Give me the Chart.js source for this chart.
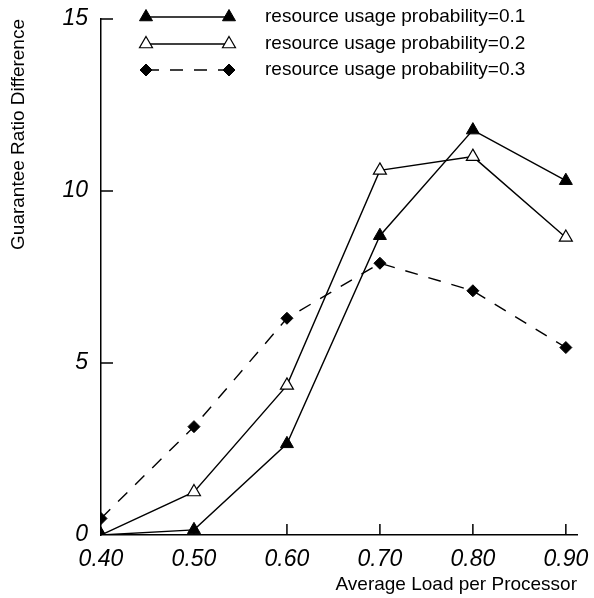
<!DOCTYPE html>
<html>
<head>
<meta charset="utf-8">
<script src="https://cdn.jsdelivr.net/npm/chart.js@4.4.0/dist/chart.umd.min.js"></script>
<style>
  html, body { margin: 0; padding: 0; background: #fff; }
</style>
</head>
<body>
<canvas id="chart" width="594" height="598"></canvas>
<script>
// data
var loads = [0.40, 0.50, 0.60, 0.70, 0.80, 0.90];
var prob01 = [0, 0.15, 2.65, 8.7, 11.77, 10.3];
var prob02 = [0, 1.25, 4.35, 10.6, 11.0, 8.65];
var prob03 = [0.48, 3.15, 6.3, 7.9, 7.1, 5.45];
var seriesNames = ['resource usage probability=0.1', 'resource usage probability=0.2', 'resource usage probability=0.3'];
var xTicks = [0.40, 0.50, 0.60, 0.70, 0.80, 0.90];
var yTicks = [0, 5, 10, 15];

var FONT = "'Liberation Sans', Arial, Helvetica, sans-serif";

function toPoints(vals) {
  return vals.map(function (v, i) { return { x: loads[i], y: v }; });
}

// no extra room for the end labels, layout padding decides the plot box
function noEdgePadding(scale) {
  scale.paddingTop = 0;
  scale.paddingBottom = 0;
  scale.paddingLeft = 0;
  scale.paddingRight = 0;
}

// small ticks pointing into the plot
var innerTicks = {
  id: 'innerTicks',
  afterDraw: function (chart) {
    var ctx = chart.ctx, a = chart.chartArea;
    var xs = chart.scales.x, ys = chart.scales.y;
    ctx.save();
    ctx.strokeStyle = '#000';
    ctx.lineWidth = 1.5;
    ctx.beginPath();
    yTicks.forEach(function (v) {
      if (v === 0) return;
      var py = ys.getPixelForValue(v);
      ctx.moveTo(a.left, py);
      ctx.lineTo(a.left + 12, py);
    });
    xTicks.forEach(function (v, i) {
      if (i === 0) return;
      var px = xs.getPixelForValue(v);
      ctx.moveTo(px, a.bottom);
      ctx.lineTo(px, a.bottom - 11);
    });
    ctx.stroke();
    ctx.restore();
  }
};

// legend drawn as line with a marker at each end
var markerLegend = {
  id: 'markerLegend',
  afterDraw: function (chart) {
    var ctx = chart.ctx;
    var rows = [17, 44, 70];
    var x1 = 146, x2 = 229, tx = 265;
    ctx.save();
    chart.data.datasets.forEach(function (ds, i) {
      var y = rows[i];
      ctx.strokeStyle = '#000';
      ctx.lineWidth = 1.5;
      ctx.setLineDash(ds.borderDash || []);
      ctx.beginPath();
      ctx.moveTo(x1, y);
      ctx.lineTo(x2, y);
      ctx.stroke();
      ctx.setLineDash([]);
      [x1, x2].forEach(function (px) {
        ctx.fillStyle = ds.pointBackgroundColor;
        ctx.strokeStyle = ds.pointBorderColor;
        ctx.lineWidth = ds.pointBorderWidth;
        Chart.helpers.drawPoint(ctx, {
          pointStyle: ds.pointStyle, radius: ds.pointRadius, rotation: 0, borderWidth: ds.pointBorderWidth
        }, px, y);
      });
      ctx.fillStyle = '#000';
      ctx.font = '19px ' + FONT;
      ctx.textAlign = 'left';
      ctx.textBaseline = 'middle';
      ctx.fillText(seriesNames[i], tx, y);
    });
    ctx.restore();
  }
};

var ctx = document.getElementById('chart').getContext('2d');
var myChart = new Chart(ctx, {
  type: 'line',
  data: {
    datasets: [{
      label: seriesNames[0],
      data: toPoints(prob01),
      borderColor: '#000',
      borderWidth: 1.4,
      pointStyle: 'triangle',
      pointRadius: 7.5,
      pointBackgroundColor: '#000',
      pointBorderColor: '#000',
      pointBorderWidth: 1
    }, {
      label: seriesNames[1],
      data: toPoints(prob02),
      borderColor: '#000',
      borderWidth: 1.4,
      pointStyle: 'triangle',
      pointRadius: 7.5,
      pointBackgroundColor: '#fff',
      pointBorderColor: '#000',
      pointBorderWidth: 1.2
    }, {
      label: seriesNames[2],
      data: toPoints(prob03),
      borderColor: '#000',
      borderWidth: 1.4,
      borderDash: [13, 11],
      pointStyle: 'rectRot',
      pointRadius: 6,
      pointBackgroundColor: '#000',
      pointBorderColor: '#000',
      pointBorderWidth: 1
    }]
  },
  options: {
    responsive: false,
    animation: false,
    devicePixelRatio: 1,
    clip: 0,
    layout: { padding: { top: 19, right: 17, bottom: 0, left: 0 } },
    plugins: {
      legend: { display: false },
      tooltip: { enabled: false }
    },
    scales: {
      x: {
        type: 'linear',
        min: 0.40,
        max: 0.912,
        afterBuildTicks: function (scale) {
          scale.ticks = xTicks.map(function (v) { return { value: v }; });
        },
        afterFit: function (scale) { scale.height = 63; noEdgePadding(scale); },
        grid: { display: true, drawOnChartArea: false, drawTicks: false },
        border: { display: true, color: '#000', width: 1.5 },
        ticks: {
          color: '#000',
          padding: 11,
          maxRotation: 0,
          font: { family: FONT, size: 23, style: 'italic' },
          callback: function (v) { return Number(v).toFixed(2); }
        },
        title: {
          display: true,
          text: 'Average Load per Processor',
          align: 'end',
          color: '#000',
          padding: { top: 0, bottom: 2 },
          font: { family: FONT, size: 19 }
        }
      },
      y: {
        min: 0,
        max: 15,
        afterBuildTicks: function (scale) {
          scale.ticks = yTicks.map(function (v) { return { value: v }; });
        },
        afterFit: function (scale) { scale.width = 101; noEdgePadding(scale); },
        grid: { display: true, drawOnChartArea: false, drawTicks: false },
        border: { display: true, color: '#000', width: 1.5 },
        ticks: {
          color: '#000',
          padding: 13,
          font: { family: FONT, size: 23, style: 'italic' }
        },
        title: {
          display: true,
          text: 'Guarantee Ratio Difference',
          align: 'end',
          color: '#000',
          padding: { top: 7, bottom: 0 },
          font: { family: FONT, size: 19 }
        }
      }
    }
  },
  plugins: [innerTicks, markerLegend]
});
</script>
</body>
</html>
